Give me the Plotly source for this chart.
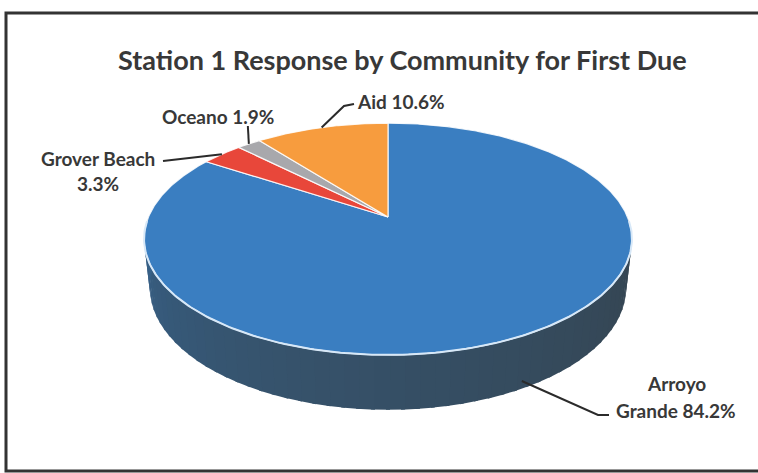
import numpy as np
import plotly.graph_objects as go

# ---------------- data ----------------
title_text = "Station 1 Response by Community for First Due"
communities = ["Arroyo Grande", "Grover Beach", "Oceano", "Aid"]
shares = [84.2, 3.3, 1.9, 10.6]
label_lines = [["Arroyo", "Grande 84.2%"], ["Grover Beach", "3.3%"], ["Oceano 1.9%"], ["Aid 10.6%"]]
slice_colors = [(58, 126, 193), (232, 71, 58), (168, 168, 172), (247, 156, 62)]

# ---------------- 3D pie projection (layout constants) ----------------
W, HGT = 758, 473
CX, CY = 388, 217
F, D, PHI, DEPTH = 1113.7, 4.65, np.radians(27.8), 0.231
SLATE = np.array([52, 64, 72])


def project(theta_deg, z=0.0, r=1.0):
    t = np.radians(np.asarray(theta_deg, dtype=float))
    X = r * np.sin(t)
    Y = r * np.cos(t)
    yc = z * np.cos(PHI) + Y * np.sin(PHI)
    zc = D + Y * np.cos(PHI) - z * np.sin(PHI)
    return CX + F * X / zc, CY - F * yc / zc


def rgb(c):
    c = np.clip(np.round(c), 0, 255).astype(int)
    return f"rgb({c[0]},{c[1]},{c[2]})"


total = sum(shares)
bounds = np.concatenate([[0], np.cumsum(shares)]) / total * 360.0

fig = go.Figure()

# ---- side wall (front half), shaded by angle ----
nseg = 60
edges = np.linspace(90, 270, nseg + 1)
for a, b in zip(edges[:-1], edges[1:]):
    mid = (a + b) / 2
    idx = int(np.searchsorted(bounds, mid, side="right") - 1)
    idx = min(max(idx, 0), len(shares) - 1)
    base = np.array(slice_colors[idx])
    u = (270 - mid) / 180.0
    w = 0.40 + 0.54 * u ** 0.6
    col = base * (1 - w) + SLATE * w
    th = np.linspace(a - 0.4, b + 0.4, 6)
    xt, yt = project(th, 0.0)
    xb, yb = project(th[::-1], -DEPTH)
    fig.add_trace(go.Scatter(x=np.concatenate([xt, xb]), y=np.concatenate([yt, yb]),
                             fill="toself", mode="lines", line=dict(width=0, color=rgb(col)),
                             fillcolor=rgb(col), hoverinfo="skip", showlegend=False))

# ---- top face slices ----
for i, name in enumerate(communities):
    a, b = bounds[i], bounds[i + 1]
    th = np.linspace(a, b, max(int((b - a) * 2), 8))
    xs, ys = project(th, 0.0)
    xs = np.concatenate([[CX], xs, [CX]])
    ys = np.concatenate([[CY], ys, [CY]])
    fig.add_trace(go.Scatter(x=xs, y=ys, fill="toself", mode="lines",
                             line=dict(width=1.2, color="rgba(255,255,255,0.85)"),
                             fillcolor=rgb(np.array(slice_colors[i])), name=name,
                             hoverinfo="name", showlegend=False))

# ---- rim highlight along the front edge ----
th = np.linspace(92, 268, 200)
xr, yr = project(th, 0.0)
fig.add_trace(go.Scatter(x=xr, y=yr, mode="lines", line=dict(width=2, color="rgb(215,232,248)"),
                         hoverinfo="skip", showlegend=False))

# ---- leader lines (anchors from slice geometry) ----
mids = (bounds[:-1] + bounds[1:]) / 2
ax0, ay0 = project(mids[0], -0.85 * DEPTH)
leaders = [
    ([float(ax0), 598, 609], [float(ay0), 415, 415]),
]
gx, gy = project(mids[1], 0.0)
leaders.append(([float(gx), 192, 163], [float(gy), 158, 161]))
ox, oy = project(mids[2], 0.0)
leaders.append(([float(ox), float(ox) - 1], [float(oy), 126]))
dx, dy = project(mids[3], 0.0)
leaders.append(([float(dx), 344, 354], [float(dy), 106, 104]))
for lx, ly in leaders:
    fig.add_trace(go.Scatter(x=lx, y=ly, mode="lines", line=dict(width=2, color="#2b2b2b"),
                             hoverinfo="skip", showlegend=False))

# ---- labels ----
label_pos = [(676, 383), (98, 158), (218, 116), (401, 101)]
annotations = []
for i, lines in enumerate(label_lines):
    x0, y0 = label_pos[i]
    for k, txt in enumerate(lines):
        annotations.append(dict(x=x0, y=y0 + k * (27 if i == 0 else 25), xref="x", yref="y",
                                text=txt, showarrow=False, xanchor="center", yanchor="middle",
                                font=dict(family="Lato", size=19, color="#383838", weight=700)))
annotations.append(dict(x=402, y=59, xref="x", yref="y", text=title_text, showarrow=False,
                        xanchor="center", yanchor="middle",
                        font=dict(family="Lato", size=27, color="#383838", weight=700)))

fig.update_layout(
    width=W, height=HGT, margin=dict(l=0, r=0, t=0, b=0),
    paper_bgcolor="white", plot_bgcolor="white", showlegend=False,
    xaxis=dict(range=[0, W], visible=False, fixedrange=True),
    yaxis=dict(range=[HGT, 0], visible=False, fixedrange=True),
    annotations=annotations,
    shapes=[dict(type="rect", xref="x", yref="y", x0=6, y0=13, x1=775, y1=471,
                 line=dict(color="#333333", width=3))],
)

fig.write_html("out.html")
